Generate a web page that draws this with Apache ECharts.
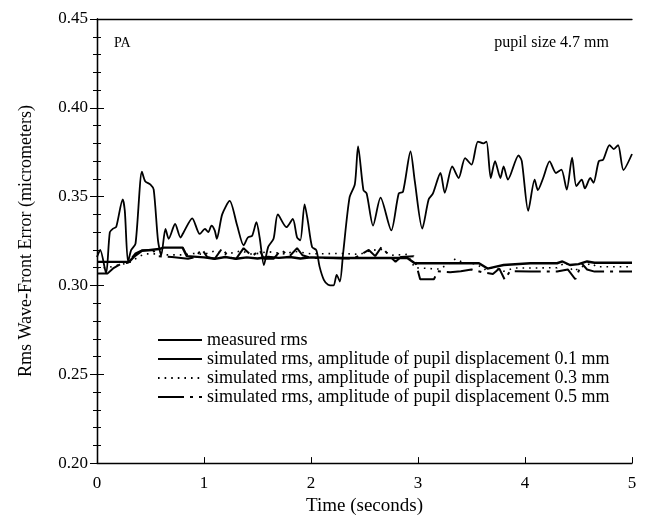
<!DOCTYPE html>
<html>
<head>
<meta charset="utf-8">
<script src="https://cdn.jsdelivr.net/npm/echarts@6/dist/echarts.min.js"></script>
<style>
  html, body { margin: 0; padding: 0; background: #fff; }
  #chart { width: 646px; height: 521px; }
</style>
</head>
<body>
<div id="chart"></div>
<script>
// measured rms wave-front error
var measuredT = [0.00, 0.03, 0.085, 0.12, 0.15, 0.18, 0.24, 0.26, 0.29, 0.32, 0.36, 0.42, 0.45, 0.50, 0.53, 0.57, 0.60, 0.64, 0.67, 0.73, 0.78, 0.81, 0.89, 0.96, 1.01, 1.04, 1.07, 1.10, 1.12, 1.17, 1.24, 1.31, 1.37, 1.41, 1.45, 1.49, 1.52, 1.56, 1.60, 1.65, 1.69, 1.77, 1.83, 1.87, 1.90, 1.94, 1.97, 2.01, 2.05, 2.08, 2.12, 2.16, 2.21, 2.24, 2.27, 2.30, 2.36, 2.41, 2.44, 2.49, 2.52, 2.58, 2.65, 2.75, 2.82, 2.86, 2.93, 2.97, 3.04, 3.10, 3.14, 3.21, 3.25, 3.32, 3.38, 3.44, 3.50, 3.56, 3.61, 3.64, 3.68, 3.72, 3.77, 3.80, 3.84, 3.94, 3.97, 4.03, 4.09, 4.12, 4.17, 4.23, 4.29, 4.34, 4.39, 4.44, 4.48, 4.53, 4.56, 4.61, 4.64, 4.69, 4.73, 4.79, 4.83, 4.87, 4.92, 5.00];
var measuredV = [0.316, 0.320, 0.3068, 0.330, 0.332, 0.333, 0.3485, 0.342, 0.3133, 0.320, 0.3235, 0.364, 0.3587, 0.3568, 0.354, 0.3254, 0.317, 0.3318, 0.3263, 0.3346, 0.327, 0.330, 0.3378, 0.329, 0.3318, 0.330, 0.3337, 0.331, 0.3263, 0.340, 0.3476, 0.3337, 0.3226, 0.327, 0.328, 0.3356, 0.327, 0.3115, 0.3217, 0.3263, 0.340, 0.3328, 0.3374, 0.327, 0.3254, 0.3457, 0.3365, 0.3217, 0.3198, 0.3106, 0.3032, 0.3004, 0.300, 0.306, 0.3022, 0.318, 0.3494, 0.357, 0.3783, 0.3537, 0.3518, 0.3337, 0.3494, 0.331, 0.3518, 0.3528, 0.3754, 0.3587, 0.332, 0.3485, 0.3518, 0.3633, 0.3522, 0.367, 0.3605, 0.3717, 0.368, 0.381, 0.380, 0.381, 0.3605, 0.370, 0.3605, 0.367, 0.3596, 0.3732, 0.370, 0.342, 0.3596, 0.3537, 0.3605, 0.3698, 0.3633, 0.3652, 0.354, 0.372, 0.3559, 0.3596, 0.3546, 0.3605, 0.3578, 0.370, 0.3707, 0.379, 0.3768, 0.379, 0.365, 0.374];

// simulated, pupil displacement 0.1 mm
var sim01T = [0, 0.30, 0.35, 0.42, 0.58, 0.62, 0.80, 0.84, 1.00, 1.10, 1.20, 1.30, 1.40, 1.50, 1.60, 1.70, 1.80, 1.90, 2.00, 2.30, 2.60, 2.90, 2.97, 3.30, 3.45, 3.57, 3.65, 3.72, 3.80, 4.05, 4.30, 4.35, 4.42, 4.50, 4.58, 4.65, 5.00];
var sim01V = [0.3133, 0.3133, 0.3165, 0.3195, 0.3205, 0.3213, 0.3213, 0.3165, 0.3158, 0.3150, 0.3160, 0.3150, 0.3158, 0.3152, 0.3160, 0.3155, 0.3160, 0.3152, 0.3158, 0.3155, 0.3155, 0.3155, 0.3125, 0.3125, 0.3125, 0.3125, 0.3095, 0.3105, 0.3115, 0.3125, 0.3125, 0.3135, 0.3115, 0.3120, 0.3135, 0.3128, 0.3128];

// simulated, pupil displacement 0.3 mm
var sim03T = [0, 0.10, 0.20, 0.30, 0.40, 0.45, 0.55, 0.60, 0.80, 0.90, 1.00, 1.10, 1.20, 1.35, 1.45, 1.60, 1.75, 1.85, 2.00, 2.30, 2.45, 2.55, 2.65, 2.75, 2.90, 2.97, 3.20, 3.28, 3.35, 3.42, 3.55, 3.62, 3.70, 3.80, 3.90, 4.05, 4.30, 4.38, 4.45, 4.55, 4.62, 4.67, 5.00];
var sim03V = [0.3100, 0.3100, 0.3115, 0.3128, 0.3165, 0.3178, 0.3178, 0.3172, 0.3172, 0.3180, 0.3175, 0.3195, 0.3175, 0.3195, 0.3175, 0.3190, 0.3178, 0.3192, 0.3178, 0.3180, 0.3175, 0.3195, 0.3205, 0.3170, 0.3175, 0.3100, 0.3092, 0.3120, 0.3150, 0.3130, 0.3120, 0.3090, 0.3100, 0.3080, 0.3098, 0.3098, 0.3100, 0.3130, 0.3080, 0.3110, 0.3125, 0.3105, 0.3105];

// simulated, pupil displacement 0.5 mm
var sim05T = [0, 0.10, 0.15, 0.22, 0.29, 0.36, 0.42, 0.52, 0.57, 0.70, 0.85, 0.92, 0.98, 1.03, 1.10, 1.17, 1.23, 1.30, 1.37, 1.45, 1.52, 1.56, 1.65, 1.72, 1.80, 1.87, 1.92, 2.00, 2.40, 2.54, 2.60, 2.66, 2.72, 2.79, 2.84, 2.96, 3.00, 3.02, 3.15, 3.18, 3.30, 3.40, 3.50, 3.60, 3.70, 3.76, 3.81, 3.86, 4.05, 4.30, 4.40, 4.47, 4.53, 4.58, 4.65, 5.00];
var sim05V = [0.3068, 0.3068, 0.3096, 0.3120, 0.3128, 0.3180, 0.3198, 0.3200, 0.3165, 0.3160, 0.3150, 0.3160, 0.3205, 0.3160, 0.3150, 0.3210, 0.3160, 0.3150, 0.3210, 0.3165, 0.3200, 0.3150, 0.3150, 0.3200, 0.3165, 0.3210, 0.3170, 0.3155, 0.3152, 0.3200, 0.3165, 0.3217, 0.3175, 0.3133, 0.3160, 0.3165, 0.3080, 0.3035, 0.3035, 0.3080, 0.3075, 0.3080, 0.3090, 0.3075, 0.3065, 0.3095, 0.3033, 0.3080, 0.3078, 0.3078, 0.3090, 0.3035, 0.3124, 0.3090, 0.3078, 0.3078];

var xTicks = [0, 1, 2, 3, 4, 5];
var yTicks = [0.20, 0.25, 0.30, 0.35, 0.40, 0.45];

var seriesNames = [
    'measured rms',
    'simulated rms, amplitude of pupil displacement 0.1 mm',
    'simulated rms, amplitude of pupil displacement 0.3 mm',
    'simulated rms, amplitude of pupil displacement 0.5 mm'
];

function pairs(ts, vs) {
    var out = [];
    for (var i = 0; i < ts.length; i++) {
        out.push([ts[i], vs[i]]);
    }
    return out;
}

var serif = '"Liberation Serif", "DejaVu Serif", serif';
var myChart = echarts.init(document.getElementById('chart'), null, { renderer: 'canvas' });

var option = {
    animation: false,
    backgroundColor: '#fff',
    textStyle: { fontFamily: serif, color: '#000' },
    grid: { left: 97, right: 14, top: 19, bottom: 52 },
    legend: {
        orient: 'vertical',
        left: 152,
        top: 326,
        itemWidth: 44,
        itemHeight: 12,
        itemGap: 1,
        data: seriesNames,
        // hide the little marker drawn in the middle of each line sample
        itemStyle: { color: 'rgba(0,0,0,0)', opacity: 0, borderWidth: 0 },
        textStyle: { fontFamily: serif, fontSize: 18, color: '#000' }
    },
    graphic: [
        { type: 'text', left: 114, top: 36, style: { text: 'PA', font: '14px ' + serif, fill: '#000' } },
        { type: 'text', right: 37, top: 35, style: { text: 'pupil size 4.7 mm', font: '16px ' + serif, fill: '#000' } }
    ],
    xAxis: [{
        type: 'value',
        min: xTicks[0],
        max: xTicks[xTicks.length - 1],
        interval: 1,
        name: 'Time (seconds)',
        nameLocation: 'middle',
        nameGap: 31,
        nameTextStyle: { fontFamily: serif, fontSize: 19, color: '#000' },
        axisLine: { lineStyle: { color: '#000', width: 1.3 } },
        axisTick: { inside: true, length: 6, lineStyle: { color: '#000' } },
        axisLabel: { fontFamily: serif, fontSize: 17, color: '#000', margin: 12 },
        splitLine: { show: false }
    }, {
        type: 'value',
        position: 'top',
        min: xTicks[0],
        max: xTicks[xTicks.length - 1],
        interval: 1,
        axisLine: { lineStyle: { color: '#000', width: 1.3 } },
        axisTick: { show: false },
        axisLabel: { show: false },
        splitLine: { show: false }
    }],
    yAxis: [{
        type: 'value',
        min: yTicks[0],
        max: yTicks[yTicks.length - 1],
        interval: 0.05,
        name: 'Rms Wave-Front Error (micrometers)',
        nameLocation: 'middle',
        nameRotate: 90,
        nameGap: 62,
        nameTextStyle: { fontFamily: serif, fontSize: 18, color: '#000' },
        axisLine: { show: true, lineStyle: { color: '#000', width: 1.3 } },
        axisTick: { inside: true, length: 7, lineStyle: { color: '#000' } },
        minorTick: { show: true, splitNumber: 5, length: 4, lineStyle: { color: '#000' } },
        axisLabel: {
            fontFamily: serif, fontSize: 17, color: '#000', margin: 9,
            formatter: function (v) { return v.toFixed(2); }
        },
        splitLine: { show: false }
    }, {
        type: 'value',
        position: 'right',
        min: yTicks[0],
        max: yTicks[yTicks.length - 1],
        interval: 0.05,
        axisLine: { show: true, lineStyle: { color: '#000', width: 1.3 } },
        axisTick: { inside: true, length: 7, lineStyle: { color: '#000' } },
        minorTick: { show: true, splitNumber: 5, length: 4, lineStyle: { color: '#000' } },
        axisLabel: { show: false },
        splitLine: { show: false }
    }],
    series: [{
        name: seriesNames[0],
        type: 'line',
        symbol: 'none',
        smooth: 0.25,
        data: pairs(measuredT, measuredV),
        lineStyle: { color: '#000', width: 1.8 },
        z: 5
    }, {
        name: seriesNames[1],
        type: 'line',
        symbol: 'none',
        data: pairs(sim01T, sim01V),
        lineStyle: { color: '#000', width: 2.4 }
    }, {
        name: seriesNames[2],
        type: 'line',
        symbol: 'none',
        data: pairs(sim03T, sim03V),
        lineStyle: { color: '#000', width: 1.6, type: [1.6, 5] }
    }, {
        name: seriesNames[3],
        type: 'line',
        symbol: 'none',
        data: pairs(sim05T, sim05V),
        lineStyle: { color: '#000', width: 2, type: [26, 6, 3, 6] }
    }]
};

myChart.setOption(option);
myChart.resize();
</script>
</body>
</html>
